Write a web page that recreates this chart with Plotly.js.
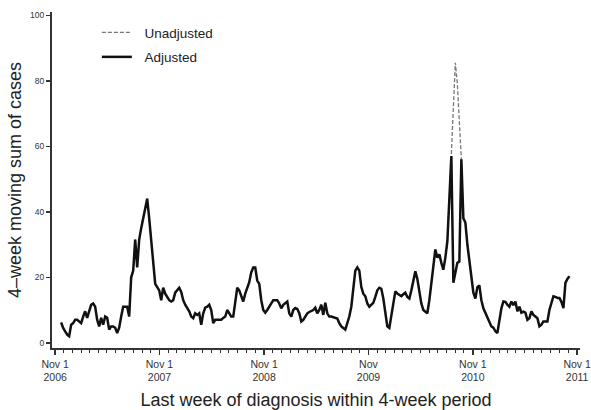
<!DOCTYPE html>
<html>
<head>
<meta charset="utf-8">
<script src="https://cdn.plot.ly/plotly-3.0.1.min.js"></script>
<style>html,body{margin:0;padding:0;background:#fff;}#chart{width:591px;height:410px;}</style>
</head>
<body>
<div id="chart"></div>
<script>
// First week plotted (end of first 4-week window); weekly series
const startWeek = '2006-11-22';

// Adjusted 4-week moving sum (weekly)
const adjusted = [
 6.2, 4.5, 3.5, 2.5, 2, 5.5, 6, 7, 7, 6.5,
 6, 8, 9.6, 7.6, 10, 11.6, 12, 11, 7, 5,
 7.6, 5.5, 8, 7.6, 4, 5, 5, 4.6, 3, 4.6,
 8, 11, 11, 11, 8, 20, 22, 31.5, 23, 31.5,
 35, 38, 42, 44, 38, 32, 25, 18, 17, 16,
 13, 16.8, 15, 14, 13, 12.6, 13, 15.3, 16.2, 16.8,
 15.5, 13, 11.6, 10.5, 9.6, 8, 7.5, 9, 8.5, 9,
 5.5, 9, 10.7, 11, 11.6, 10, 6, 7, 7, 7,
 7, 7.6, 8, 10, 9, 8, 8, 12, 16.8, 16,
 14, 12.6, 15, 16.8, 18.5, 21.5, 23, 23, 19, 18,
 13, 10, 9.2, 10, 11, 11.6, 13, 13, 13, 12,
 10.5, 11.6, 12, 12.6, 9, 8, 10, 10.6, 10.3, 9,
 6.5, 7, 8, 9, 9.4, 9.6, 10, 10.7, 9, 10,
 11.6, 8.5, 12.2, 9, 8, 8, 7.8, 7.6, 7.4, 6,
 5, 4.5, 4, 6, 8, 11, 17, 22, 23, 22,
 17, 15, 14.2, 12, 11, 11.5, 12.2, 14, 16, 16.8,
 16.5, 13.5, 9, 5, 4.5, 8, 12, 15.7, 15, 14.7,
 14.2, 14.8, 15.3, 14, 13.5, 16, 19, 21.8, 19.5, 16,
 12, 10, 9.5, 9, 13, 18, 23, 28.5, 26, 27,
 24.4, 22.3, 26, 31, 44, 57, 18.3, 22, 24.4, 24.8,
 56, 38, 36.7, 30, 25, 19, 15.3, 13.5, 17, 17.5,
 13, 10.5, 9, 8, 6, 5, 4.6, 3.5, 3, 7,
 10.5, 12.6, 12.5, 11.6, 11, 12.6, 11.5, 12.6, 9.6, 11,
 9.2, 9.5, 9.2, 7, 7.5, 9.6, 8.5, 8, 7.5, 5,
 5.5, 6.5, 6.5, 6.5, 10, 12.5, 14.2, 14, 13.7, 13.7,
 12.5, 10.6, 18.3, 19.5, 20.3
];

// Unadjusted series differs only in the weeks of the autumn-2010 peak
const unadjustedPeakStart = 196;
const unadjustedPeak = [68, 85.5, 79, 69];

const seriesNames = ['Unadjusted', 'Adjusted'];
const xTickVals = ['2006-11-01', '2007-11-01', '2008-11-01', '2009-11-01', '2010-11-01', '2011-11-01'];
const xTickText = ['Nov 1<br>2006', 'Nov 1<br>2007', 'Nov 1<br>2008', 'Nov<br>2009', 'Nov 1<br>2010', 'Nov 1<br>2011'];
const yTickVals = [0, 20, 40, 60, 80, 100];

// weekly dates
const dates = [];
const d0 = new Date(startWeek + 'T00:00:00Z');
for (let i = 0; i < adjusted.length; i++) {
  const d = new Date(d0.getTime() + i * 7 * 86400000);
  dates.push(d.toISOString().slice(0, 10));
}
const unadjusted = adjusted.slice();
unadjustedPeak.forEach((v, k) => { unadjusted[unadjustedPeakStart + k] = v; });

const font = 'Liberation Sans, Arial, sans-serif';
const axisColor = '#333333';
const pad = '\u00a0\u00a0';

const traces = [
  {
    x: dates, y: unadjusted, type: 'scatter', mode: 'lines', name: pad + seriesNames[0],
    legendgroup: 'u',
    line: {color: '#777777', width: 1.3, dash: '4px,2px'}
  },
  {
    x: dates, y: adjusted, type: 'scatter', mode: 'lines', name: pad + seriesNames[1],
    legendgroup: 'a',
    line: {color: '#111111', width: 2.5}
  }
];

const layout = {
  width: 591, height: 410,
  margin: {l: 52, r: 11, t: 12, b: 62},
  paper_bgcolor: '#ffffff', plot_bgcolor: '#ffffff',
  font: {family: font, color: axisColor},
  showlegend: true,
  legend: {
    x: 0.085, y: 0.985, xanchor: 'left', yanchor: 'top',
    bgcolor: 'rgba(0,0,0,0)', font: {size: 13.5, family: font, color: '#222'},
    itemwidth: 30, tracegroupgap: 4, traceorder: 'grouped'
  },
  xaxis: {
    type: 'date',
    range: ['2006-10-21', '2011-11-11'],
    tickvals: xTickVals, ticktext: xTickText,
    tickfont: {size: 10.5, family: font, color: axisColor},
    ticklabeloverflow: 'allow',
    ticks: 'outside', ticklen: 5, tickwidth: 1.5, tickcolor: axisColor,
    minor: {dtick: 'M1', tick0: '2006-11-01', ticks: 'outside', ticklen: 3, tickwidth: 1, tickcolor: axisColor, showgrid: false},
    showline: true, linecolor: axisColor, linewidth: 2,
    showgrid: false, zeroline: false,
    title: {text: 'Last week of diagnosis within 4-week period', font: {size: 18, family: font, color: '#222'}, standoff: 11}
  },
  yaxis: {
    range: [-1.6, 101],
    tickvals: yTickVals,
    tickfont: {size: 8.5, family: font, color: axisColor},
    ticks: 'outside', ticklen: 4, tickwidth: 1.5, tickcolor: axisColor,
    showline: true, linecolor: axisColor, linewidth: 2,
    showgrid: false, zeroline: false,
    title: {text: '4–week moving sum of cases', font: {size: 18, family: font, color: '#222'}, standoff: 4}
  }
};

Plotly.newPlot('chart', traces, layout, {displayModeBar: false, staticPlot: true});
</script>
</body>
</html>
